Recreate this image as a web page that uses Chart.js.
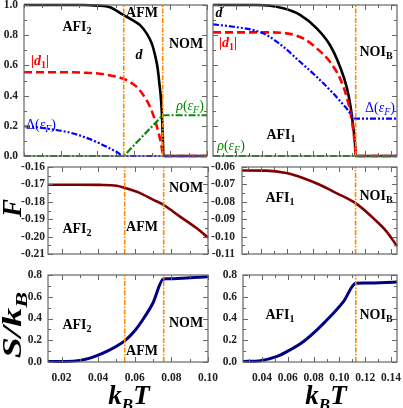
<!DOCTYPE html>
<html><head><meta charset="utf-8">
<script src="https://cdn.jsdelivr.net/npm/chart.js@4.4.0/dist/chart.umd.min.js"></script>
<style>
html,body{margin:0;padding:0;background:#fff;}
#wrap{position:relative;width:403px;height:408px;overflow:hidden;background:#fff;}
canvas{position:absolute;left:0;top:0;}
.t{position:absolute;transform:translate(-50%,-50%);white-space:nowrap;line-height:1;font-family:"Liberation Serif","Times New Roman",serif;font-weight:bold;font-size:14px;color:#000;}
.t sub{font-size:10px;vertical-align:-3px;line-height:0;}
.n{font-weight:normal;}
.i{font-style:italic;}
.big{font-size:27px;font-style:italic;}
.big sub{font-size:17px;vertical-align:-6px;}
.rot{transform:translate(-50%,-50%) rotate(-90deg);}
.rots{transform:translate(-50%,-50%) rotate(-90deg) scaleX(1.4);}
</style></head><body><div id="wrap">
<canvas id="c1" width="403" height="408"></canvas>
<canvas id="c2" width="403" height="408"></canvas>
<canvas id="c3" width="403" height="408"></canvas>
<canvas id="c4" width="403" height="408"></canvas>
<canvas id="c5" width="403" height="408"></canvas>
<canvas id="c6" width="403" height="408"></canvas>

<div class="t" style="left:77px;top:27px">AFI<sub>2</sub></div>
<div class="t" style="left:142px;top:13px">AFM</div>
<div class="t" style="left:186px;top:44px">NOM</div>
<div class="t i" style="left:139px;top:55px">d</div>
<div class="t" style="left:40px;top:61px;color:#f00"><span class="i">|d</span><sub>1</sub><span class="i">|</span></div>
<div class="t n" style="left:41px;top:125px;color:#00f">Δ(<span class="i">ε</span><sub class="i">F</sub>)</div>
<div class="t n" style="left:190px;top:106px;color:#080"><span class="i">ρ</span>(<span class="i">ε</span><sub class="i">F</sub>)</div>

<div class="t i" style="left:219px;top:13px">d</div>
<div class="t" style="left:228px;top:43px;color:#f00"><span class="i">|d</span><sub>1</sub><span class="i">|</span></div>
<div class="t" style="left:376px;top:52px">NOI<sub>B</sub></div>
<div class="t n" style="left:380px;top:108px;color:#00f">Δ(<span class="i">ε</span><sub class="i">F</sub>)</div>
<div class="t" style="left:281px;top:135px">AFI<sub>1</sub></div>
<div class="t n" style="left:231px;top:146px;color:#080"><span class="i">ρ</span>(<span class="i">ε</span><sub class="i">F</sub>)</div>

<div class="t" style="left:186px;top:188px">NOM</div>
<div class="t" style="left:77px;top:229px">AFI<sub>2</sub></div>
<div class="t" style="left:142px;top:227px">AFM</div>
<div class="t" style="left:280px;top:198px">AFI<sub>1</sub></div>
<div class="t" style="left:376px;top:196px">NOI<sub>B</sub></div>

<div class="t" style="left:77px;top:325px">AFI<sub>2</sub></div>
<div class="t" style="left:186px;top:323px">NOM</div>
<div class="t" style="left:142px;top:351px">AFM</div>
<div class="t" style="left:280px;top:315px">AFI<sub>1</sub></div>
<div class="t" style="left:376px;top:315px">NOI<sub>B</sub></div>

<div class="t big rot" style="left:12px;top:208px">F</div>
<div class="t big rots" style="left:12px;top:325px">S/k<sub>B</sub></div>
<div class="t big" style="left:129px;top:395px">k<sub>B</sub>T</div>
<div class="t big" style="left:326px;top:395px">k<sub>B</sub>T</div>
</div>
<script>
// ---------- data ----------
// top-left: order parameters vs k_B T
const TL_x_d  = [0, 0.020, 0.0324, 0.040, 0.047, 0.0543, 0.0600, 0.0634, 0.0670, 0.0698, 0.0716, 0.0729, 0.0740, 0.0749, 0.0755, 0.0759, 0.0762, 0.080, 0.090, 0.100];
const TL_d    = [1.000, 1.000, 1.000, 0.996, 0.985, 0.934, 0.895, 0.867, 0.812, 0.746, 0.668, 0.591, 0.480, 0.370, 0.237, 0.104, 0.000, 0, 0, 0];
const TL_x_d1 = [0, 0.010, 0.020, 0.0324, 0.0415, 0.0507, 0.0561, 0.0616, 0.0652, 0.0689, 0.0716, 0.0734, 0.0749, 0.0758, 0.0762, 0.080, 0.090, 0.100];
const TL_d1   = [0.555, 0.555, 0.555, 0.552, 0.545, 0.524, 0.502, 0.458, 0.403, 0.325, 0.237, 0.159, 0.082, 0.016, 0, 0, 0, 0];
const TL_x_D  = [0, 0.0080, 0.0142, 0.0233, 0.0324, 0.0415, 0.0470, 0.0507, 0.0545, 0.060, 0.070, 0.080, 0.090, 0.100];
const TL_D    = [0.197, 0.190, 0.178, 0.160, 0.128, 0.083, 0.050, 0.027, 0.000, 0, 0, 0, 0, 0];
const TL_x_r  = [0, 0.0545, 0.0758, 0.100];
const TL_r    = [0, 0, 0.270, 0.270];
const TL_trans = [0.0545, 0.0758];

// top-right
const TR_x_d  = [0.0025, 0.020, 0.0362, 0.0568, 0.0697, 0.0826, 0.0928, 0.1006, 0.1057, 0.1088, 0.1108, 0.1122, 0.1127, 0.120, 0.1446];
const TR_d    = [1.000, 1.000, 1.000, 0.978, 0.934, 0.845, 0.735, 0.591, 0.458, 0.325, 0.192, 0.082, 0.000, 0, 0];
const TR_x_d1 = [0.0025, 0.020, 0.044, 0.0594, 0.0722, 0.0826, 0.0928, 0.1006, 0.1057, 0.1088, 0.1108, 0.1122, 0.1127, 0.120, 0.1446];
const TR_d1   = [0.819, 0.819, 0.819, 0.812, 0.779, 0.713, 0.624, 0.514, 0.392, 0.281, 0.171, 0.060, 0.000, 0, 0];
const TR_x_D  = [0.0025, 0.0182, 0.0336, 0.0440, 0.0568, 0.0697, 0.0826, 0.0954, 0.1057, 0.1127, 0.120, 0.130, 0.1446];
const TR_D    = [0.872, 0.856, 0.834, 0.801, 0.723, 0.624, 0.524, 0.414, 0.315, 0.248, 0.248, 0.248, 0.248];
const TR_x_r  = [0.0025, 0.1446];
const TR_r    = [0, 0];
const TR_trans = [0.1127];

// middle: free energy F
const ML_x = [0.0126, 0.030, 0.041, 0.0501, 0.0547, 0.0629, 0.0702, 0.0756, 0.0847, 0.0939, 0.100];
const ML_F = [-0.1702, -0.1702, -0.1703, -0.1708, -0.1721, -0.1750, -0.1789, -0.1817, -0.1885, -0.1952, -0.2006];
const MR_x = [0.0253, 0.044, 0.0594, 0.0722, 0.0851, 0.0980, 0.1127, 0.1263, 0.1366, 0.1446];
const MR_F = [-0.0620, -0.0621, -0.0635, -0.0663, -0.0702, -0.0750, -0.0808, -0.0894, -0.0971, -0.1055];

// bottom: entropy S/k_B
const BL_x = [0.0126, 0.0228, 0.0300, 0.0350, 0.0400, 0.0450, 0.0500, 0.0545, 0.0600, 0.0650, 0.0700, 0.0756, 0.0775, 0.0900, 0.1000];
const BL_S = [0.004, 0.005, 0.015, 0.033, 0.063, 0.100, 0.145, 0.195, 0.288, 0.405, 0.545, 0.763, 0.765, 0.775, 0.783];
const BR_x = [0.0253, 0.0388, 0.0517, 0.0620, 0.0722, 0.0826, 0.0929, 0.1031, 0.1127, 0.1200, 0.1446];
const BR_S = [0.005, 0.012, 0.051, 0.113, 0.189, 0.296, 0.418, 0.555, 0.724, 0.727, 0.735];

// tick values
const TICK_Y_TOP = [0, 0.2, 0.4, 0.6, 0.8, 1.0];
const TICK_Y_F_L = [-0.21, -0.20, -0.19, -0.18, -0.17, -0.16];
const TICK_Y_F_R = [-0.11, -0.10, -0.09, -0.08, -0.07, -0.06];
const TICK_Y_S   = [0, 0.2, 0.4, 0.6, 0.8];
const TICK_X_L   = [0.02, 0.04, 0.06, 0.08, 0.10];
const TICK_X_R   = [0.04, 0.06, 0.08, 0.10, 0.12, 0.14];

// ---------- helpers ----------
const zip = (xs, ys) => xs.map((x, i) => ({x, y: ys[i]}));
const FONT = {family: '"Liberation Serif","Times New Roman",serif', weight: 'bold', size: 11.5};

function curve(xs, ys, color, width, dash, mono) {
  return {data: zip(xs, ys), borderColor: color, borderWidth: width, borderDash: dash || [],
    pointRadius: 0, fill: false, clip: 4, cubicInterpolationMode: mono === false ? 'default' : 'monotone',
    tension: mono === false ? 0 : 0.4, borderCapStyle: 'butt'};
}
function vlines(xs, ymin, ymax) {
  return xs.map(x => ({data: [{x, y: ymin}, {x, y: ymax}], borderColor: '#FF8A00', borderWidth: 1.6,
    borderDash: [5, 1.5, 1.5, 1.5], pointRadius: 0, fill: false, clip: 0, tension: 0}));
}
function range(a, b, s) { const r = []; for (let v = a; v <= b + s / 1000; v += s) r.push(+v.toFixed(5)); return r; }

function panel(id, area, xs, ys, datasets) {
  const YW = Math.min(area.l, 44), XH = 30;
  const frame = {
    id: 'frame',
    afterDraw(chart) {
      const {ctx, chartArea: ca, scales} = chart;
      ctx.save();
      ctx.strokeStyle = '#666';
      ctx.lineWidth = 1.2;
      ctx.strokeRect(ca.left, ca.top, ca.right - ca.left, ca.bottom - ca.top);
      ctx.lineWidth = 1;
      const tk = (vals, len, horiz) => vals.forEach(v => {
        if (horiz) {
          if (v < xs.min - 1e-9 || v > xs.max + 1e-9) return;
          const p = Math.round(scales.x.getPixelForValue(v)) + 0.5;
          ctx.beginPath(); ctx.moveTo(p, ca.bottom); ctx.lineTo(p, ca.bottom - len);
          ctx.moveTo(p, ca.top); ctx.lineTo(p, ca.top + len); ctx.stroke();
        } else {
          if (v < ys.min - 1e-9 || v > ys.max + 1e-9) return;
          const p = Math.round(scales.y.getPixelForValue(v)) + 0.5;
          ctx.beginPath(); ctx.moveTo(ca.left, p); ctx.lineTo(ca.left + len, p);
          ctx.moveTo(ca.right, p); ctx.lineTo(ca.right - len, p); ctx.stroke();
        }
      });
      tk(range(Math.ceil(xs.min / xs.minor) * xs.minor, xs.max, xs.minor), 3, true);
      tk(range(Math.ceil(ys.min / ys.minor) * ys.minor, ys.max, ys.minor), 3, false);
      tk(xs.ticks, 5, true);
      tk(ys.ticks, 5, false);
      ctx.restore();
    }
  };
  const mkScale = (s, horiz) => ({
    type: 'linear', min: s.min, max: s.max,
    grid: {display: false, drawTicks: false, tickLength: 0}, border: {display: false},
    afterFit(sc) {
      if (horiz) sc.height = XH; else sc.width = YW;
      sc.paddingLeft = 0; sc.paddingRight = 0; sc.paddingTop = 0; sc.paddingBottom = 0;
    },
    afterBuildTicks(sc) { sc.ticks = s.ticks.map(v => ({value: v})); },
    ticks: {display: s.labels, autoSkip: false, maxRotation: 0, minRotation: 0, padding: s.pad,
      font: FONT, color: '#222', callback: v => v.toFixed(s.dec)}
  });
  new Chart(document.getElementById(id), {
    type: 'line',
    data: {datasets},
    options: {
      responsive: false, animation: false, devicePixelRatio: 1, parsing: false, normalized: true,
      layout: {autoPadding: false, padding: {left: area.l - YW, top: area.t, right: 403 - area.r, bottom: Math.max(0, 408 - area.b - XH)}},
      plugins: {legend: {display: false}, tooltip: {enabled: false}},
      scales: {x: mkScale(xs, true), y: mkScale(ys, false)}
    },
    plugins: [frame]
  });
}

// ---------- panels ----------
panel('c1', {l: 24, t: 5, r: 207, b: 156},
  {min: 0, max: 0.10, ticks: TICK_X_L, minor: 0.01, labels: false, dec: 2, pad: 9},
  {min: 0, max: 1.0, ticks: TICK_Y_TOP, minor: 0.1, labels: true, dec: 1, pad: 6},
  [...vlines(TL_trans, 0, 1),
   curve(TL_x_r, TL_r, '#0a8a0a', 2.2, [7, 2, 2, 2], false),
   curve(TL_x_D, TL_D, '#0000FF', 2.2, [6, 2, 2, 2, 2, 2]),
   curve(TL_x_d1, TL_d1, '#FF0000', 2.6, [8, 4]),
   curve(TL_x_d, TL_d, '#000000', 2.6)]);

panel('c2', {l: 213, t: 5, r: 397, b: 156},
  {min: 0.0025, max: 0.1446, ticks: [0.02].concat(TICK_X_R), minor: 0.01, labels: false, dec: 2, pad: 9},
  {min: 0, max: 1.0, ticks: TICK_Y_TOP, minor: 0.1, labels: false, dec: 1, pad: 6},
  [...vlines(TR_trans, 0, 1),
   curve(TR_x_r, TR_r, '#0a8a0a', 2.2, [7, 2, 2, 2], false),
   curve(TR_x_D, TR_D, '#0000FF', 2.2, [6, 2, 2, 2, 2, 2]),
   curve(TR_x_d1, TR_d1, '#FF0000', 2.6, [8, 4]),
   curve(TR_x_d, TR_d, '#000000', 2.6)]);

panel('c3', {l: 48, t: 167, r: 208, b: 254},
  {min: 0.0126, max: 0.10, ticks: TICK_X_L, minor: 0.01, labels: false, dec: 2, pad: 9},
  {min: -0.21, max: -0.16, ticks: TICK_Y_F_L, minor: 0.005, labels: true, dec: 2, pad: 3},
  [...vlines(TL_trans, -0.21, -0.16),
   curve(ML_x, ML_F, '#800000', 2.6)]);

panel('c4', {l: 242, t: 167, r: 397, b: 254},
  {min: 0.0253, max: 0.1446, ticks: TICK_X_R, minor: 0.01, labels: false, dec: 2, pad: 9},
  {min: -0.11, max: -0.06, ticks: TICK_Y_F_R, minor: 0.005, labels: true, dec: 2, pad: 7},
  [...vlines(TR_trans, -0.11, -0.06),
   curve(MR_x, MR_F, '#800000', 2.6)]);

panel('c5', {l: 48, t: 275, r: 208, b: 362},
  {min: 0.0126, max: 0.10, ticks: TICK_X_L, minor: 0.01, labels: true, dec: 2, pad: 9},
  {min: 0, max: 0.8, ticks: TICK_Y_S, minor: 0.1, labels: true, dec: 1, pad: 6},
  [...vlines(TL_trans, 0, 0.8),
   curve(BL_x, BL_S, '#000080', 3)]);

panel('c6', {l: 243, t: 275, r: 397, b: 362},
  {min: 0.0253, max: 0.1446, ticks: TICK_X_R, minor: 0.01, labels: true, dec: 2, pad: 9},
  {min: 0, max: 0.8, ticks: TICK_Y_S, minor: 0.1, labels: true, dec: 1, pad: 6},
  [...vlines(TR_trans, 0, 0.8),
   curve(BR_x, BR_S, '#000080', 3)]);
</script>
</body></html>
